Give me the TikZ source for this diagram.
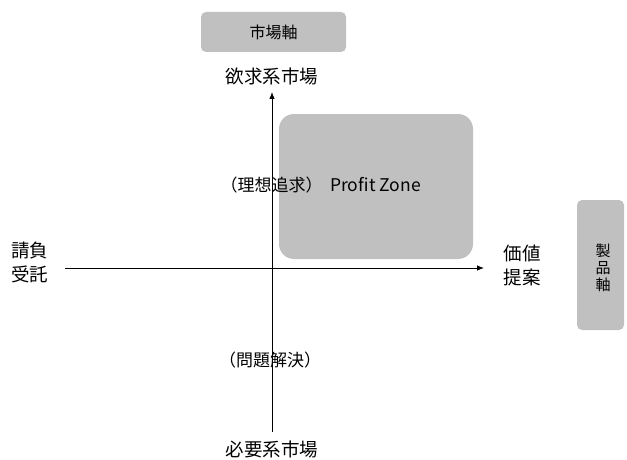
\documentclass[tikz,border=0pt]{standalone}
\usepackage{fontspec}
\setmainfont{Noto Sans CJK JP}
\usetikzlibrary{arrows.meta}
\definecolor{boxgray}{HTML}{C0C0C0}
\begin{document}
\begin{tikzpicture}[x=1pt,y=-1pt,
  box/.style={fill=boxgray, rounded corners=5pt, inner sep=0pt, draw=none},
  lbl/.style={inner sep=0pt, align=center, font=\fontsize{18.5}{24}\selectfont},
  small/.style={inner sep=0pt, align=center, font=\fontsize{17}{18}\selectfont},
  axisline/.style={-{Latex[length=7pt,width=5.5pt]}, line width=0.8pt}]
\useasboundingbox (0,0) rectangle (627,460);
% boxes
\node[box, minimum width=145pt, minimum height=40pt, font=\fontsize{16}{18}\selectfont] (mkt) at (273.5,32) {市場軸};
\node[box, minimum width=47pt, minimum height=130pt] (prod) at (600.5,265) {};
\node[inner sep=0pt, align=center, font=\fontsize{15}{17}\selectfont] (prodlbl) at (603,268) {製\\品\\軸};
\node[box, rounded corners=15pt, minimum width=194pt, minimum height=145pt] (zone) at (376,186.5) {};
% axes
\coordinate (vb) at (272,432);
\coordinate (vt) at (272,92);
\coordinate (hl) at (65,268);
\coordinate (hr) at (484,268);
\draw[axisline] (vb) -- (vt);
\draw[axisline] (hl) -- (hr);
% labels
\node[lbl] (want) at (272,76.5) {欲求系市場};
\node[lbl] (need) at (272,449) {必要系市場};
\node[lbl] (left) at (30,262.5) {請負\\受託};
\node[lbl] (right) at (522,265) {価値\\提案};
\node[small] (ideal) at (271.5,185) {（理想追求）};
\node[small, font=\fontsize{17.5}{18}\selectfont] (pz) at (375.5,185) {Profit Zone};
\node[small] (prob) at (270,360) {（問題解決）};
\end{tikzpicture}
\end{document}
